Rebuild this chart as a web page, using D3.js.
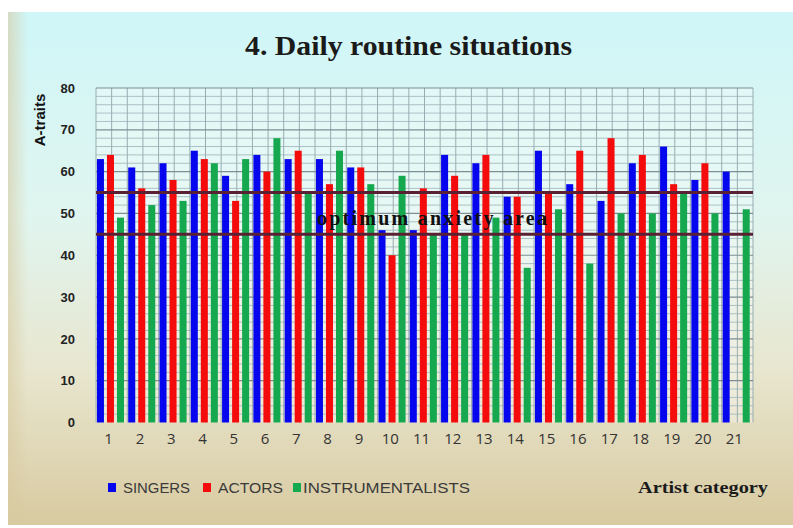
<!DOCTYPE html>
<html>
<head>
<meta charset="utf-8">
<script src="https://cdn.jsdelivr.net/npm/d3@7"></script>
<style>
  body { margin: 0; background: #ffffff; }
  #chart svg { display: block; }
</style>
</head>
<body>
<div id="chart"></div>
<script>
// data
const categories = ["1","2","3","4","5","6","7","8","9","10","11","12","13","14","15","16","17","18","19","20","21"];
const singers = [63,61,62,65,59,64,63,63,61,46,46,64,62,54,65,57,53,62,66,58,60];
const actors = [64,56,58,63,53,60,65,57,61,40,56,59,64,54,55,65,68,64,57,62,0];
const instrumentalists = [49,52,53,62,63,68,55,65,57,59,45,45,49,37,51,38,50,50,55,50,51];
const seriesNames = ["SINGERS", "ACTORS", "INSTRUMENTALISTS"];
const seriesColors = ["#0505ee", "#f40c0c", "#16a84f"];
const yTicks = [0,10,20,30,40,50,60,70,80];
const optimumRange = [45, 55];

document.addEventListener('DOMContentLoaded', function () {
    const W = 793, H = 528;
    const svg = d3.select("#chart").append("svg")
        .attr("width", W).attr("height", H);

    const defs = svg.append("defs");
    const bg = defs.append("linearGradient").attr("id", "bg")
        .attr("x1", 0).attr("y1", 0).attr("x2", 0).attr("y2", 1);
    bg.append("stop").attr("offset", "0%").attr("stop-color", "#cff6f8");
    bg.append("stop").attr("offset", "40%").attr("stop-color", "#e0f5ef");
    bg.append("stop").attr("offset", "70%").attr("stop-color", "#e8e6cf");
    bg.append("stop").attr("offset", "100%").attr("stop-color", "#d8caa0");
    // beige tint at the left edge
    const edge = defs.append("linearGradient").attr("id", "edge")
        .attr("x1", 0).attr("y1", 0).attr("x2", 1).attr("y2", 0);
    edge.append("stop").attr("offset", "0%").attr("stop-color", "#d8caa0").attr("stop-opacity", 0.6);
    edge.append("stop").attr("offset", "2.5%").attr("stop-color", "#d8caa0").attr("stop-opacity", 0);

    // panel
    svg.append("rect").attr("x", 8).attr("y", 12)
        .attr("width", W - 8).attr("height", 513)
        .attr("fill", "url(#bg)");
    svg.append("rect").attr("x", 8).attr("y", 12)
        .attr("width", W - 8).attr("height", 513)
        .attr("fill", "url(#edge)");

    const margin = { left: 96, right: 40, top: 88, bottom: 105.5 };
    const x = d3.scaleBand().domain(categories)
        .range([margin.left, W - margin.right]).padding(0);
    const y = d3.scaleLinear().domain([0, 80])
        .range([H - margin.bottom, margin.top]);

    const bw = x.bandwidth();
    const x1 = d3.scaleBand().domain(seriesNames)
        .range([bw * 0.03, bw * 0.895]).paddingInner(0.3).paddingOuter(0);

    // plot area
    svg.append("rect")
        .attr("x", margin.left).attr("y", y(80))
        .attr("width", x.range()[1] - margin.left).attr("height", y(0) - y(80))
        .attr("fill", "#ffffff").attr("fill-opacity", 0.3);

    const grid = svg.append("g");
    // minor horizontal lines every 2
    grid.selectAll("line.hminor").data(d3.range(2, 80, 2).filter(v => v % 10 !== 0))
        .join("line").attr("class", "hminor")
        .attr("x1", margin.left).attr("x2", x.range()[1])
        .attr("y1", d => y(d)).attr("y2", d => y(d))
        .attr("stroke", "#a9c1c6").attr("stroke-width", 1);
    // vertical lines at every half category
    const vpos = [];
    categories.forEach(c => { vpos.push(x(c)); vpos.push(x(c) + bw / 2); });
    vpos.push(x.range()[1]);
    grid.selectAll("line.v").data(vpos)
        .join("line").attr("class", "v")
        .attr("x1", d => d).attr("x2", d => d)
        .attr("y1", y(80)).attr("y2", y(0))
        .attr("stroke", "#98adb2").attr("stroke-width", 1);
    // major horizontal lines
    grid.selectAll("line.hmajor").data(yTicks.filter(v => v > 0))
        .join("line").attr("class", "hmajor")
        .attr("x1", margin.left).attr("x2", x.range()[1])
        .attr("y1", d => y(d)).attr("y2", d => y(d))
        .attr("stroke", "#7d8f94").attr("stroke-width", 1.2);

    // bars
    const rows = categories.map((c, i) => ({
        cat: c,
        vals: [singers[i], actors[i], instrumentalists[i]]
    }));
    const groups = svg.append("g").selectAll("g").data(rows).join("g")
        .attr("transform", d => `translate(${x(d.cat)},0)`);
    groups.selectAll("rect")
        .data(d => d.vals.map((v, k) => ({ name: seriesNames[k], value: v, k: k })))
        .join("rect")
        .attr("x", d => x1(d.name))
        .attr("width", x1.bandwidth())
        .attr("y", d => y(d.value))
        .attr("height", d => y(0) - y(d.value))
        .attr("fill", d => seriesColors[d.k]);

    // optimum anxiety area lines
    svg.append("g").selectAll("line").data(optimumRange).join("line")
        .attr("x1", margin.left).attr("x2", x.range()[1])
        .attr("y1", d => y(d)).attr("y2", d => y(d))
        .attr("stroke", "#5a2034").attr("stroke-width", 3);

    svg.append("text")
        .attr("x", 317).attr("y", y(47.3))
        .attr("textLength", 230).attr("lengthAdjust", "spacing")
        .style("font-family", "'Liberation Serif', 'DejaVu Serif', serif")
        .style("font-weight", "bold").style("font-size", "20px")
        .attr("fill", "#111")
        .text("optimum anxiety area");

    // y axis
    const yAxis = svg.append("g")
        .attr("transform", `translate(${margin.left - 21},0)`)
        .call(d3.axisLeft(y).tickValues(yTicks).tickSize(0).tickPadding(0));
    yAxis.select(".domain").remove();
    yAxis.selectAll("text")
        .style("font-family", "'Liberation Sans', Arial, sans-serif")
        .style("font-weight", "bold").style("font-size", "13px")
        .attr("fill", "#222");

    svg.append("text")
        .attr("transform", `translate(45, 120) rotate(-90)`)
        .attr("text-anchor", "middle")
        .style("font-family", "'Liberation Sans', Arial, sans-serif")
        .style("font-weight", "bold").style("font-size", "15px")
        .attr("fill", "#111")
        .text("A-traits");

    // x axis
    const xAxis = svg.append("g")
        .attr("transform", `translate(-3,${y(0)})`)
        .call(d3.axisBottom(x).tickSize(0).tickPadding(11));
    xAxis.select(".domain").remove();
    xAxis.selectAll("text")
        .style("font-family", "'Open Sans', 'Liberation Sans', sans-serif")
        .style("font-size", "15px")
        .attr("fill", "#333");

    // title
    svg.append("text")
        .attr("x", 245).attr("y", 55)
        .attr("textLength", 327).attr("lengthAdjust", "spacingAndGlyphs")
        .style("font-family", "'Liberation Serif', 'DejaVu Serif', serif")
        .style("font-weight", "bold").style("font-size", "28px")
        .attr("fill", "#1a1a1a")
        .text("4. Daily routine situations");

    // legend
    const legendX = [108, 203, 293];
    const legendW = [67, 65, 167];
    const legend = svg.append("g").selectAll("g").data(seriesNames).join("g")
        .attr("transform", (d, i) => `translate(${legendX[i]}, 483)`);
    legend.append("rect")
        .attr("width", 8).attr("height", 9).attr("y", 0)
        .attr("fill", (d, i) => seriesColors[i]);
    legend.append("text")
        .attr("x", (d, i) => i === 2 ? 10 : 15).attr("y", 10)
        .attr("textLength", (d, i) => legendW[i]).attr("lengthAdjust", "spacingAndGlyphs")
        .style("font-family", "'Liberation Sans', sans-serif")
        .style("font-size", "14px")
        .attr("fill", "#3a3a3a")
        .text(d => d);

    svg.append("text")
        .attr("x", 638).attr("y", 493)
        .attr("textLength", 130).attr("lengthAdjust", "spacingAndGlyphs")
        .style("font-family", "'Liberation Serif', 'DejaVu Serif', serif")
        .style("font-weight", "bold").style("font-size", "17px")
        .attr("fill", "#1a1a1a")
        .text("Artist category");
});
</script>
</body>
</html>
